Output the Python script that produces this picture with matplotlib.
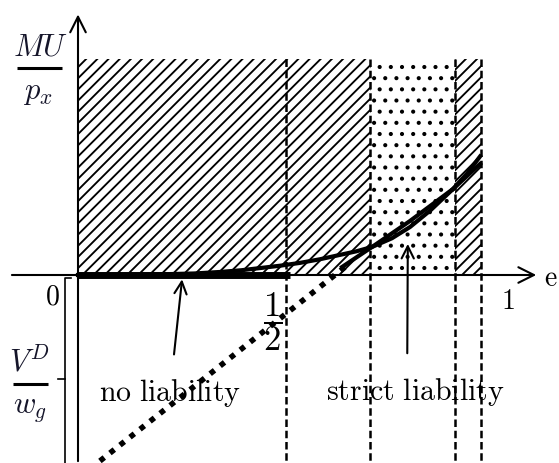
import numpy as np
import matplotlib.pyplot as plt

plt.rcParams['mathtext.fontset'] = 'cm'
plt.rcParams['hatch.linewidth'] = 2.0

# region bounds along e
e_half = 0.484
e_a = 0.679
e_b = 0.877
e_end = 0.937
top = 1.0

# convex curve (MU / p_x)
curve_e = [0.0, 0.167, 0.270, 0.330, 0.380, 0.423, 0.470, 0.516, 0.563, 0.609, 0.648,
           0.684, 0.730, 0.772, 0.820, 0.872, 0.905, 0.935]
curve_v = [0.0, 0.002, 0.007, 0.014, 0.022, 0.032, 0.043, 0.056, 0.073, 0.093, 0.110,
           0.130, 0.170, 0.222, 0.300, 0.398, 0.470, 0.549]

# straight-ish line after the dotted part
line_e = [0.614, 0.684, 0.772, 0.872, 0.935]
line_v = [0.037, 0.130, 0.250, 0.398, 0.514]

# dotted line (V^D / w_g)
dot_e = [0.051, 0.621]
dot_v = [-0.861, 0.037]

# low dpi so the hatch spacing comes out like the original
DPI = 67
k = 100 / DPI

fig = plt.figure(figsize=(559 / DPI, 464 / DPI), dpi=DPI)
ax = fig.add_axes([0, 0, 1, 1])
ax.set_xlim(-0.1814, 1.1186)
ax.set_ylim(-0.8704, 1.2778)
ax.axis('off')

# shaded regions
ax.fill_between([0, e_a], 0, top, facecolor='none', edgecolor='black', linewidth=0, hatch='//')
ax.fill_between([e_b, e_end], 0, top, facecolor='none', edgecolor='black', linewidth=0, hatch='//')
ax.fill_between([e_a, e_b], 0, top, facecolor='none', edgecolor='black', linewidth=0, hatch='.')

# dashed verticals
for xv in [e_half, e_a, e_b, e_end]:
    ax.plot([xv, xv], [top, -0.8704], color='black', lw=1.8 * k, ls=(0, (3, 1.5)))

# axes with open arrows
ax.annotate('', xy=(0, 1.215), xytext=(0, -0.8704),
            arrowprops=dict(arrowstyle='->', lw=1.5 * k, mutation_scale=28 * k, color='black'))
ax.annotate('', xy=(1.07, 0), xytext=(-0.158, 0),
            arrowprops=dict(arrowstyle='->', lw=1.5 * k, mutation_scale=28 * k, color='black'))

# curves
ax.plot([0, 0.493], [0, 0], color='black', lw=5 * k, solid_capstyle='butt')
ax.plot(curve_e, curve_v, color='black', lw=3 * k)
ax.plot(line_e, line_v, color='black', lw=3 * k)
ax.plot(dot_e, dot_v, color='black', lw=4 * k, ls=(0, (1, 1.3)))

# bracket on the left
ax.plot([-0.0163, -0.0302, -0.0302], [-0.0139, -0.0139, -0.8704], color='black', lw=1.2 * k)
ax.plot([-0.0302, -0.0465], [-0.4815, -0.4815], color='black', lw=1.2 * k)

# fraction labels, drawn as numerator / bar / denominator
lab_color = '#15152a'
ax.text(-0.0884, 1.058, r'$MU$', fontsize=22 * k, ha='center', va='center', color=lab_color)
ax.plot([-0.1419, -0.0372], [0.958, 0.958], color='black', lw=2.2 * k, solid_capstyle='butt')
ax.text(-0.093, 0.850, r'$p_x$', fontsize=22 * k, ha='center', va='center', color=lab_color)

ax.text(-0.114, -0.396, r'$V^D$', fontsize=22 * k, ha='center', va='center', color=lab_color)
ax.plot([-0.1512, -0.0698], [-0.5046, -0.5046], color='black', lw=2.2 * k, solid_capstyle='butt')
ax.text(-0.1116, -0.616, r'$w_g$', fontsize=22 * k, ha='center', va='center', color=lab_color)

ax.text(-0.0605, -0.097, r'$0$', fontsize=20 * k, ha='center', va='center')
ax.text(0.452, -0.213, r'$\dfrac{1}{2}$', fontsize=25 * k, ha='center', va='center')
ax.text(1.0, -0.116, r'$1$', fontsize=20 * k, ha='center', va='center')
ax.text(1.099, -0.01, r'$\mathrm{e}$', fontsize=20 * k, ha='center', va='center')

ax.annotate(r'$\mathrm{no\ liability}$', xy=(0.242, -0.02), xytext=(0.214, -0.54),
            fontsize=21.5 * k, ha='center', va='center',
            arrowprops=dict(arrowstyle='->', lw=1.5 * k, mutation_scale=22 * k, color='black',
                            shrinkA=14 * k, shrinkB=0))
ax.annotate(r'$\mathrm{strict\ liability}$', xy=(0.767, 0.144), xytext=(0.784, -0.535),
            fontsize=21.5 * k, ha='center', va='center',
            arrowprops=dict(arrowstyle='->', lw=1.5 * k, mutation_scale=22 * k, color='black',
                            shrinkA=14 * k, shrinkB=0, relpos=(0.455, 0.5)))

fig.savefig('out.png', dpi=DPI)
